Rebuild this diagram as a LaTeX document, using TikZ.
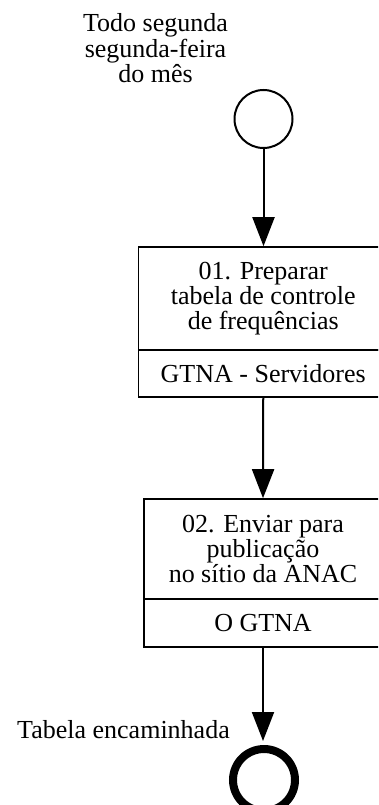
\documentclass[tikz,border=0pt]{standalone}
\usepackage{fontspec}
\setmainfont{Liberation Serif}
\usetikzlibrary{arrows.meta}
\tikzset{
  txt/.style={font=\fontsize{26}{25.5}\selectfont, align=center, inner sep=0pt},
  taskbox/.style={draw, line width=1.6pt, inner sep=0pt, font=\fontsize{26}{25}\selectfont, align=center},
  startev/.style={draw, circle, line width=2pt, minimum size=58pt, inner sep=0pt},
  endev/.style={draw, circle, line width=8pt, minimum size=62pt, inner sep=0pt},
  arr/.style={line width=2pt, -{Triangle[length=29pt,width=22pt]}}
}
\begin{document}
\begin{tikzpicture}[x=1pt,y=-1pt]
\path[use as bounding box, clip] (0,0) rectangle (378,805);
\fill[white] (0,0) rectangle (378,805);
% start event
\node[txt] (lbl1) at (155.5,48.5) {Todo segunda\\segunda-feira\\do mês};
\node[startev] (start) at (263.5,119) {};
% task 1
\node[taskbox, minimum width=249.5pt, minimum height=103pt] (t1) at (263.25,298.5)
  {01. Preparar\\tabela de controle\\de frequências};
\node[taskbox, minimum width=249.5pt, minimum height=47pt] (r1) at (263.25,373.5)
  {GTNA - Servidores};
% task 2
\node[taskbox, minimum width=238pt, minimum height=100pt] (t2) at (263,549)
  {02. Enviar para\\publicação\\no sítio da ANAC};
\node[taskbox, minimum width=238pt, minimum height=48pt] (r2) at (263,623)
  {O GTNA};
% end event
\node[endev] (end) at (264,780) {};
\node[txt, anchor=base] (lbl2) at (123.5,738) {Tabela encaminhada};
% connectors
\draw[arr] (start.south) -- (start.south |- t1.north);
\draw[arr] (r1.south -| t1.north) -- (t2.north);
\draw[arr, shorten >=4pt] (r2.south) -- (r2.south |- end.north);
\end{tikzpicture}
\end{document}
